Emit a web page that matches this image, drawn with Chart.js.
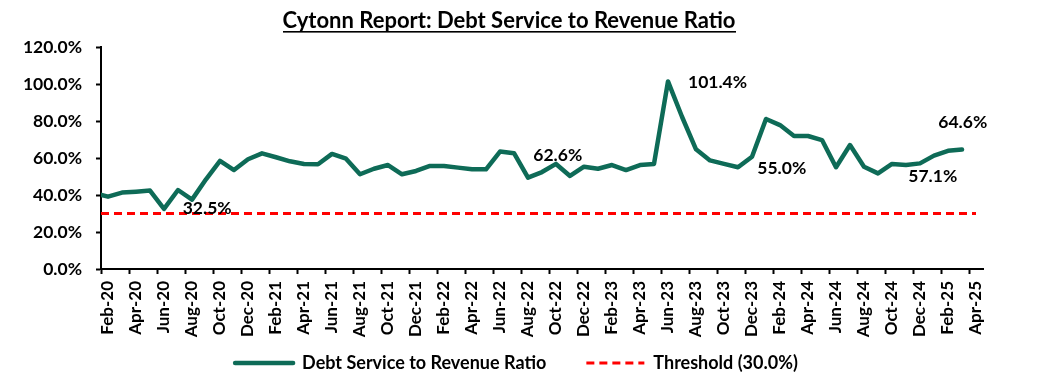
<!DOCTYPE html>
<html>
<head>
<meta charset="utf-8">
<script src="https://cdn.jsdelivr.net/npm/chart.js@4.4.1/dist/chart.umd.min.js"></script>
<style>
  html, body { margin: 0; padding: 0; background: #ffffff; }
  #wrap { width: 1040px; height: 392px; }
</style>
</head>
<body>
<div id="wrap"><canvas id="chart" width="1040" height="392"></canvas></div>
<script>
// ---- data ----
const categories = [
  'Jan-20','Feb-20','Mar-20','Apr-20','May-20','Jun-20','Jul-20','Aug-20','Sep-20','Oct-20','Nov-20','Dec-20',
  'Jan-21','Feb-21','Mar-21','Apr-21','May-21','Jun-21','Jul-21','Aug-21','Sep-21','Oct-21','Nov-21','Dec-21',
  'Jan-22','Feb-22','Mar-22','Apr-22','May-22','Jun-22','Jul-22','Aug-22','Sep-22','Oct-22','Nov-22','Dec-22',
  'Jan-23','Feb-23','Mar-23','Apr-23','May-23','Jun-23','Jul-23','Aug-23','Sep-23','Oct-23','Nov-23','Dec-23',
  'Jan-24','Feb-24','Mar-24','Apr-24','May-24','Jun-24','Jul-24','Aug-24','Sep-24','Oct-24','Nov-24','Dec-24',
  'Jan-25','Feb-25','Mar-25','Apr-25'
];
const firstShownCategory = 'Feb-20';

const debtServiceRatio = [
  41.0, 39.1, 41.3, 41.8, 42.4, 32.5, 42.7, 37.5, 48.5, 58.4, 53.5, 59.3,
  62.5, 60.4, 58.2, 56.8, 56.6, 62.2, 59.6, 51.2, 54.2, 56.2, 51.2, 53.0,
  55.7, 55.7, 54.8, 53.9, 53.9, 63.5, 62.6, 49.4, 52.4, 56.8, 50.3, 55.3,
  54.2, 56.2, 53.5, 56.2, 56.8, 101.4, 82.3, 64.7, 58.7, 56.8, 55.0, 60.7,
  81.1, 77.8, 71.9, 71.9, 69.7, 55.0, 67.0, 55.3, 51.7, 56.8, 56.2, 57.1,
  61.3, 63.9, 64.6, null
];
const thresholdValue = 30.0;
const threshold = categories.map(() => thresholdValue);

const seriesNames = ['Debt Service to Revenue Ratio', 'Threshold (30.0%)'];
const yTickValues = [0, 20, 40, 60, 80, 100, 120];

const noteLabels = ['32.5%', '62.6%', '101.4%', '55.0%', '57.1%', '64.6%'];
const noteCategories = ['Jun-20', 'Jul-22', 'Jun-23', 'Nov-23', 'Dec-24', 'Mar-25'];

const titleText = 'Cytonn Report: Debt Service to Revenue Ratio';

// ---- styles ----
const GREEN = '#0e6b57';
const RED = '#ff0000';
const FAMILY = 'Lato, "Open Sans", sans-serif';
Chart.defaults.font.family = FAMILY;
Chart.defaults.color = '#000000';

const notesPlugin = {
  id: 'pointNotes',
  afterDatasetsDraw(chart, args, opts) {
    const { ctx, scales } = chart;
    ctx.save();
    ctx.font = opts.font;
    ctx.fillStyle = opts.color;
    ctx.textAlign = 'left';
    ctx.textBaseline = 'middle';
    noteCategories.forEach((cat, i) => {
      const idx = categories.indexOf(cat);
      const px = scales.x.getPixelForValue(idx);
      const py = scales.y.getPixelForValue(debtServiceRatio[idx]);
      const off = opts.offsets[i];
      ctx.fillText(noteLabels[i], px + off[0], py + off[1]);
    });
    ctx.restore();
  }
};

const titlePlugin = {
  id: 'underlinedTitle',
  afterDraw(chart, args, opts) {
    const ctx = chart.ctx;
    ctx.save();
    ctx.font = opts.font;
    ctx.fillStyle = '#000000';
    ctx.textAlign = 'center';
    ctx.textBaseline = 'alphabetic';
    ctx.fillText(opts.text, opts.x, opts.y);
    const w = ctx.measureText(opts.text).width;
    ctx.fillRect(Math.round(opts.x - w / 2), opts.y + 3, Math.round(w), 1.6);
    ctx.restore();
  }
};

// let the rotated category labels hang below the compact x-axis box, and nudge the legend
const layoutTweakPlugin = {
  id: 'layoutTweak',
  afterLayout(chart, args, opts) {
    const s = chart.scales.x;
    s.height = opts.xLabelRoom;
    s.bottom = s.top + opts.xLabelRoom;
    chart.legend.left += opts.legendShift;
    chart.legend.right += opts.legendShift;
  }
};

const boldFont = (size) => ({ family: FAMILY, weight: 'bold', size: size });

new Chart(document.getElementById('chart'), {
  type: 'line',
  data: {
    labels: categories,
    datasets: [
      {
        label: seriesNames[0],
        data: debtServiceRatio,
        borderColor: GREEN,
        backgroundColor: GREEN,
        borderWidth: 4.5,
        borderJoinStyle: 'round',
        borderCapStyle: 'round',
        tension: 0,
        pointRadius: 0,
        pointHoverRadius: 0,
        pointStyle: 'line',
        spanGaps: false,
        fill: false
      },
      {
        label: seriesNames[1],
        data: threshold,
        borderColor: RED,
        backgroundColor: RED,
        borderWidth: 3,
        borderDash: [8, 5],
        borderDashOffset: 6,
        tension: 0,
        pointRadius: 0,
        pointHoverRadius: 0,
        pointStyle: 'line',
        fill: false
      }
    ]
  },
  options: {
    responsive: false,
    animation: false,
    devicePixelRatio: 1,
    layout: { padding: { left: 0, right: 57, top: 47, bottom: 10 } },
    scales: {
      x: {
        type: 'category',
        min: firstShownCategory,
        offset: true,
        grid: {
          display: true,
          offset: true,
          drawOnChartArea: false,
          drawTicks: true,
          tickLength: 5,
          tickWidth: 2,
          tickColor: (c) => (c.tick && c.tick.value % 2 === 1) ? '#000000' : 'rgba(0,0,0,0)'
        },
        border: { display: true, color: '#000000', width: 2 },
        ticks: {
          autoSkip: false,
          minRotation: 90,
          maxRotation: 90,
          padding: 7,
          color: '#000000',
          font: boldFont(17),
          callback: function (v) { return v % 2 === 1 ? this.getLabelForValue(v) : ''; }
        },
        afterFit: (s) => { s.height = 45; }
      },
      y: {
        min: yTickValues[0],
        max: yTickValues[yTickValues.length - 1],
        grid: {
          display: true,
          drawOnChartArea: false,
          drawTicks: true,
          tickLength: 5,
          tickWidth: 2,
          tickColor: '#000000'
        },
        border: { display: true, color: '#000000', width: 2 },
        ticks: {
          stepSize: 20,
          padding: 14,
          color: '#000000',
          font: boldFont(17.5),
          callback: (v) => v.toFixed(1) + '%'
        },
        afterFit: (s) => { s.width = 101; }
      }
    },
    plugins: {
      title: { display: false },
      tooltip: { enabled: false },
      legend: {
        display: true,
        position: 'bottom',
        labels: {
          usePointStyle: true,
          pointStyleWidth: 58,
          padding: 40,
          color: '#000000',
          font: boldFont(18),
          generateLabels: (chart) => {
            const items = Chart.defaults.plugins.legend.labels.generateLabels(chart);
            items.forEach((it, i) => {
              const ds = chart.data.datasets[i];
              it.lineWidth = ds.borderWidth;
              it.strokeStyle = ds.borderColor;
              it.lineDash = ds.borderDash || [];
              it.lineDashOffset = 0;
              it.lineCap = i === 0 ? 'round' : 'butt';
              it.pointStyle = 'line';
            });
            return items;
          }
        }
      },
      layoutTweak: { xLabelRoom: 80, legendShift: 25 },
      pointNotes: {
        font: 'bold 17.5px ' + FAMILY,
        color: '#000000',
        offsets: [[18.7, -0.6], [19.3, 1.8], [20, 1.3], [19.3, 1], [-11.7, 13.3], [-23.7, -26.8]]
      },
      underlinedTitle: {
        text: titleText,
        font: 'bold 22px ' + FAMILY,
        x: 509,
        y: 28
      }
    }
  },
  plugins: [layoutTweakPlugin, notesPlugin, titlePlugin]
});
</script>
</body>
</html>
